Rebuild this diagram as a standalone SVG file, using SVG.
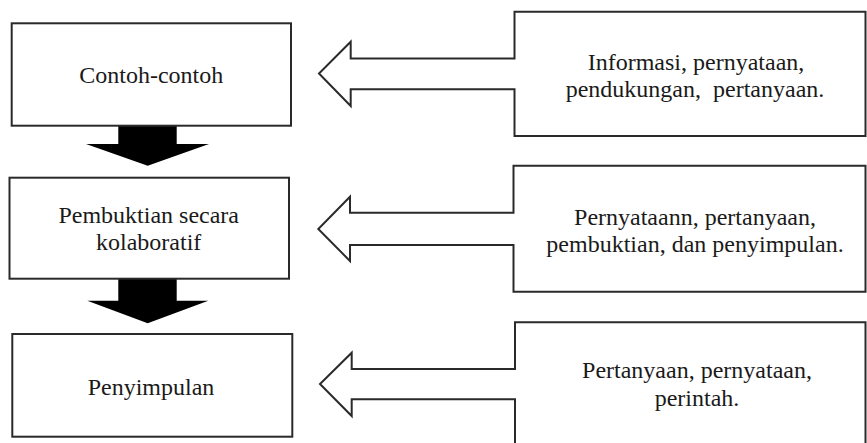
<svg xmlns="http://www.w3.org/2000/svg" width="867" height="443" viewBox="0 0 867 443">
<style>
.box{fill:#fff;stroke:#2a2a2a;stroke-width:2}
.src{fill:#fff;stroke:#2a2a2a;stroke-width:2;stroke-linejoin:miter}
.down{fill:#000}
text{font-family:"Liberation Serif","Times New Roman",serif;font-size:24px;fill:#1a1a1a;text-anchor:middle}
</style>
<rect width="867" height="443" fill="#fff"/>
<g id="connectors">
<path class="down" d="M118.3 125.7 H176.7 V144 H209 L147.7 165.7 L86 144 H118.3 Z"/>
<path class="down" d="M118.3 278.7 H176.7 V300.7 H208.3 L147.7 323.3 L87.3 300.7 H118.3 Z"/>
</g>
<g id="node-contoh">
<rect class="box" x="11.7" y="23.3" width="279.3" height="102.4"/>
<text x="151.3" y="82.7">Contoh-contoh</text>
</g>
<g id="node-pembuktian">
<rect class="box" x="9.5" y="177.7" width="279.5" height="101"/>
<text x="148.7" y="222.7">Pembuktian secara</text>
<text x="148.7" y="250">kolaboratif</text>
</g>
<g id="node-penyimpulan">
<rect class="box" x="12.3" y="334" width="280" height="102.7"/>
<text x="151" y="395">Penyimpulan</text>
</g>
<g id="node-info1">
<path class="src" d="M865.5 11.7 H514.5 V58.5 H350.7 V41.7 L319 73.5 L350.7 106 V89.3 H514.5 V136 H865.5 Z"/>
<text x="696" y="70">Informasi, pernyataan,</text>
<text x="695" y="96.7" xml:space="preserve">pendukungan,  pertanyaan.</text>
</g>
<g id="node-info2">
<path class="src" d="M865.5 165.7 H513.5 V212.7 H350 V196.7 L318.3 229 L350 261 V245 H513.5 V291.7 H865.5 Z"/>
<text x="695" y="225">Pernyataann, pertanyaan,</text>
<text x="695" y="251.7">pembuktian, dan penyimpulan.</text>
</g>
<g id="node-info3">
<path class="src" d="M865.5 450 V322.3 H515 V369 H351.7 V352.7 L320 384 L351.7 416 V399.3 H515 V450"/>
<text x="697" y="378.3">Pertanyaan, pernyataan,</text>
<text x="697" y="406">perintah.</text>
</g>
</svg>
